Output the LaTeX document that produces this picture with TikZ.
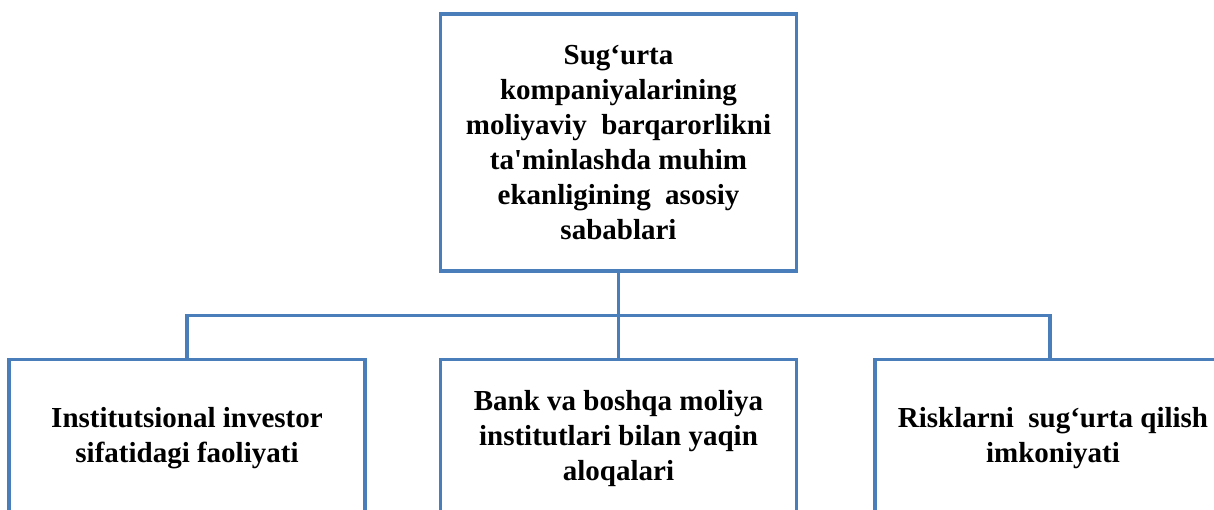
\documentclass[tikz,border=0pt]{standalone}
\usepackage{fontspec}
\setmainfont{Liberation Serif}[Ligatures=TeXOff]
\usetikzlibrary{positioning,calc}
\definecolor{boxblue}{RGB}{74,126,187}

\begin{document}
\begin{tikzpicture}[x=1pt,y=1pt,node distance=73pt and 73pt,
  box/.style={draw=boxblue,line width=3.5pt,fill=white,align=center,
    font=\fontsize{29}{35}\selectfont\bfseries,minimum width=356pt},
  link/.style={draw=boxblue,line width=3.5pt}]
\useasboundingbox (0,0) rectangle (1214,-509);
\node[box,minimum height=257pt] (top) at (618.5,-142.5)
  {Sug‘urta\\kompaniyalarining\\moliyaviy\ \ barqarorlikni\\ta'minlashda muhim\\ekanligining\ \ asosiy\\sabablari};
\node[box,minimum height=158pt,below=85pt of top] (bank)
  {Bank va boshqa moliya\\institutlari bilan yaqin\\aloqalari};
\node[box,minimum height=158pt,left=72pt of bank] (invest)
  {Institutsional investor\\sifatidagi faoliyati};
\node[box,minimum height=158pt,right=75pt of bank] (risk)
  {Risklarni\ \ sug‘urta qilish\\imkoniyati};

\coordinate (bus) at ($(top.south)!0.5!(bank.north)$);
\draw[link] (top.south) -- (bank.north);
\draw[link] (invest.north) |- (bus) -| ([xshift=-3pt]risk.north);
\end{tikzpicture}
\end{document}
